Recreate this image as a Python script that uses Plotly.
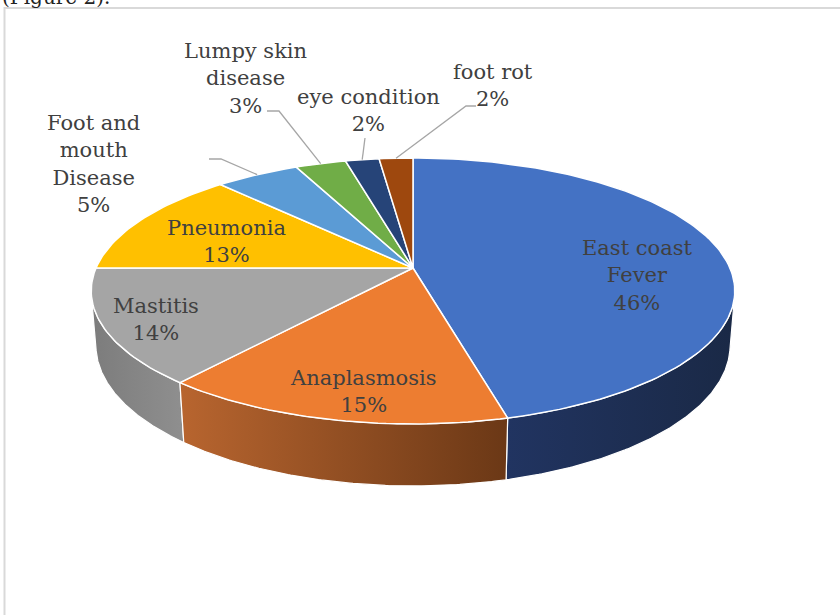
import numpy as np
import plotly.graph_objects as go

# ---------------- data ----------------
categories = ["East coast Fever", "Anaplasmosis", "Mastitis", "Pneumonia",
              "Foot and mouth Disease", "Lumpy skin disease", "eye condition", "foot rot"]
values = [46, 15, 14, 13, 5, 3, 2, 2]
label_names = ["East coast<br>Fever", "Anaplasmosis", "Mastitis", "Pneumonia",
               "Foot and<br>mouth<br>Disease", "Lumpy skin<br>disease", "eye condition", "foot rot"]

# ---------------- styles ----------------
top_colors = ["#4472C4", "#ED7D31", "#A5A5A5", "#FFC000",
              "#5B9BD5", "#70AD47", "#264478", "#9E480E"]
side_grad = [("#213461", "#1A2946"), ("#B8652F", "#6B3816"), ("#7C7C7C", "#8F8F8F"),
             ("#B38600", "#7F5F00"), ("#3F6D96", "#2F5273"), ("#4E7A32", "#3A5B25"),
             ("#1A3054", "#14243F"), ("#6F320A", "#532607")]
label_pos = [(637, 275), (363, 391), (156, 319), (226, 241),
             (93, 164), (245, 78), (368, 110), (493, 85)]
leader_start = {4: [(209, 159), (221, 159)], 5: [(267, 111), (279, 111)],
                6: [(365, 138)], 7: [(476, 106), (466, 106)]}
FONT = "DejaVu Serif"
TXT = "#404040"

# projection of the 3D pie (perspective)
CX, CY, K, D, SA, CA, H = 413, 268, 1675, 5.285, 0.407, 0.9135, 0.188


def proj(theta, z):
    X = np.sin(theta)
    Y = np.cos(theta)
    Z = D + Y * CA - z * SA
    up = Y * SA + z * CA
    return CX + K * X / Z, CY - K * up / Z


total = float(sum(values))
cum = np.concatenate([[0], np.cumsum(values)])
angles = 2 * np.pi * cum / total

fig = go.Figure()

# side walls (only front-facing part)
ta = np.arccos(-1.0 / (D * CA))
tb = 2 * np.pi - ta
walls = []
for i in range(len(values)):
    lo, hi = max(angles[i], ta), min(angles[i + 1], tb)
    if lo < hi:
        walls.append((np.cos((lo + hi) / 2), i, lo, hi))
walls.sort(reverse=True)
for _, i, lo, hi in walls:
    ts = np.linspace(lo, hi, 120)
    xt, yt = proj(ts, 0.0)
    xb, yb = proj(ts[::-1], -H)
    xs = np.concatenate([xt, xb, xt[:1]])
    ys = np.concatenate([yt, yb, yt[:1]])
    fig.add_trace(go.Scatter(
        x=xs, y=ys, mode="lines", fill="toself",
        fillgradient=dict(type="horizontal",
                          colorscale=[[0, side_grad[i][0]], [1, side_grad[i][1]]]),
        line=dict(color="white", width=1.2), hoverinfo="skip"))

# top faces
for i in range(len(values)):
    n = max(int(300 * values[i] / total), 8)
    ts = np.linspace(angles[i], angles[i + 1], n)
    xt, yt = proj(ts, 0.0)
    xs = np.concatenate([[CX], xt, [CX]])
    ys = np.concatenate([[CY], yt, [CY]])
    fig.add_trace(go.Scatter(
        x=xs, y=ys, mode="lines", fill="toself", fillcolor=top_colors[i],
        line=dict(color="white", width=1.5), name=categories[i],
        hoverinfo="name"))

# leader lines
for i, pts in leader_start.items():
    mid = (angles[i] + angles[i + 1]) / 2
    ax, ay = proj(mid, 0.0)
    xs = [p[0] for p in pts] + [ax]
    ys = [p[1] for p in pts] + [ay]
    fig.add_trace(go.Scatter(x=xs, y=ys, mode="lines",
                             line=dict(color="#A6A6A6", width=1.3), hoverinfo="skip"))

# labels
for i in range(len(values)):
    pct = f"{values[i] / total * 100:.0f}%"
    fig.add_annotation(x=label_pos[i][0], y=label_pos[i][1], xref="x", yref="y",
                       text=f"{label_names[i]}<br>{pct}", showarrow=False,
                       font=dict(family=FONT, size=21, color=TXT),
                       xanchor="center", yanchor="middle")

# cut caption at top
fig.add_annotation(x=0, y=11, xref="x", yref="y", text="(Figure 2).",
                   showarrow=False, xanchor="left", yanchor="bottom",
                   font=dict(family=FONT, size=20, color="#222222"))

# chart area border
fig.add_shape(type="rect", xref="x", yref="y", x0=4.5, y0=8, x1=860, y1=640,
              line=dict(color="#D9D9D9", width=2), layer="below")

fig.update_layout(
    width=840, height=615, margin=dict(l=0, r=0, t=0, b=0),
    paper_bgcolor="white", plot_bgcolor="white", showlegend=False,
    xaxis=dict(range=[0, 840], visible=False, fixedrange=True),
    yaxis=dict(range=[615, 0], visible=False, fixedrange=True),
)

fig.write_html("out.html", config={"displayModeBar": False},
               post_script="document.body.style.margin='0';document.body.style.padding='0';")
